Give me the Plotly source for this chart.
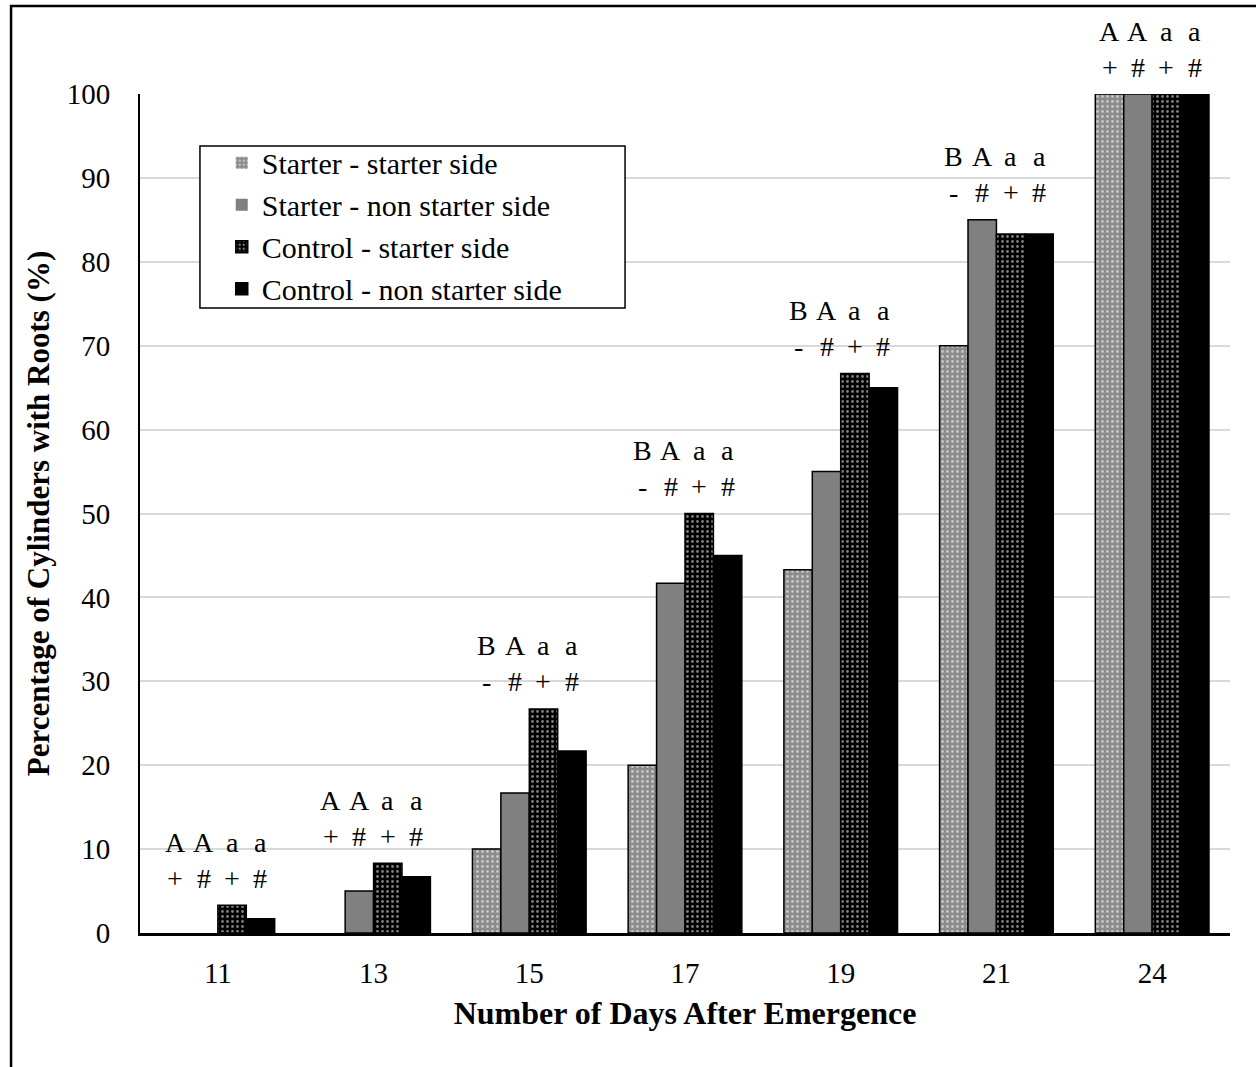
import plotly.graph_objects as go

days = ["11", "13", "15", "17", "19", "21", "24"]
series_names = ["Starter - starter side", "Starter - non starter side",
                "Control - starter side", "Control - non starter side"]
starter_starter = [0, 0, 10, 20, 43.3, 70, 100]
starter_non = [0, 5, 16.7, 41.7, 55, 85, 100]
control_starter = [3.3, 8.3, 26.7, 50, 66.7, 83.3, 100]
control_non = [1.7, 6.7, 21.7, 45, 65, 83.3, 100]
letters = [["A", "A", "a", "a"], ["A", "A", "a", "a"], ["B", "A", "a", "a"],
           ["B", "A", "a", "a"], ["B", "A", "a", "a"], ["B", "A", "a", "a"],
           ["A", "A", "a", "a"]]
symbols = [["+", "#", "+", "#"], ["+", "#", "+", "#"], ["-", "#", "+", "#"],
           ["-", "#", "+", "#"], ["-", "#", "+", "#"], ["-", "#", "+", "#"],
           ["+", "#", "+", "#"]]

values = [starter_starter, starter_non, control_starter, control_non]
FONT = "Liberation Serif, Times New Roman, serif"
BARGAP = 0.27

styles = [
    dict(color="#8c8c8c", pattern=dict(shape=".", fgcolor="white", bgcolor="#8c8c8c", size=5, solidity=0.25)),
    dict(color="#808080"),
    dict(color="black", pattern=dict(shape=".", fgcolor="white", bgcolor="black", size=5, solidity=0.25)),
    dict(color="black"),
]

xs = list(range(len(days)))
fig = go.Figure()
for name, vals, st in zip(series_names, values, styles):
    lw = [1.5 if v > 0 else 0 for v in vals]
    fig.add_trace(go.Bar(x=xs, y=vals, name=name,
                         marker=dict(line=dict(color="black", width=lw), **st)))

w = (1 - BARGAP) / 4
offsets = [(-1.5 + k) * w for k in range(4)]
annotations = []
for i in xs:
    top = max(v[i] for v in values)
    for k in range(4):
        annotations.append(dict(x=i + offsets[k], y=top, xref="x", yref="y",
                                text=letters[i][k], showarrow=False, yanchor="middle",
                                yshift=63, font=dict(family=FONT, size=28, color="black")))
        annotations.append(dict(x=i + offsets[k], y=top, xref="x", yref="y",
                                text=symbols[i][k], showarrow=False, yanchor="middle",
                                yshift=27, font=dict(family=FONT, size=28, color="black")))

fig.update_layout(
    width=1256, height=1067,
    margin=dict(l=140, r=26, t=94, b=134),
    barmode="group", bargap=BARGAP, bargroupgap=0,
    plot_bgcolor="white", paper_bgcolor="white",
    font=dict(family=FONT, size=29, color="black"),
    annotations=annotations,
    legend=dict(x=0.075, y=0.949, xanchor="left", yanchor="top",
                borderwidth=0, bgcolor="rgba(0,0,0,0)",
                font=dict(family=FONT, size=30, color="black"),
                tracegroupgap=0, itemwidth=30),
    xaxis=dict(tickvals=xs, ticktext=days, range=[-0.5, len(days) - 0.5],
               showline=True, linecolor="black", linewidth=3, showgrid=False,
               ticks="", ticklabelstandoff=12,
               title=dict(text="<b>Number of Days After Emergence</b>",
                          font=dict(family=FONT, size=32), standoff=14)),
    yaxis=dict(range=[0, 100], dtick=10, showline=True, linecolor="black", linewidth=2,
               showgrid=True, gridcolor="#d9d9d9", gridwidth=1.5, zeroline=False,
               ticks="", ticklabelstandoff=22,
               title=dict(text="<b>Percentage of Cylinders with Roots (%)</b>",
                          font=dict(family=FONT, size=31), standoff=8)),
    shapes=[
        dict(type="rect", xref="paper", yref="paper",
             x0=-0.1183, x1=1.03, y0=-0.17, y1=1.1049,
             line=dict(color="black", width=2.5), layer="below"),
        dict(type="rect", xref="paper", yref="paper",
             x0=0.055, x1=0.445, y0=0.745, y1=0.938,
             line=dict(color="black", width=1.5), fillcolor="white", layer="above"),
    ],
)

fig.write_html("out.html", config={"displayModeBar": False},
               post_script="document.body.style.margin='0';document.body.style.padding='0';")
